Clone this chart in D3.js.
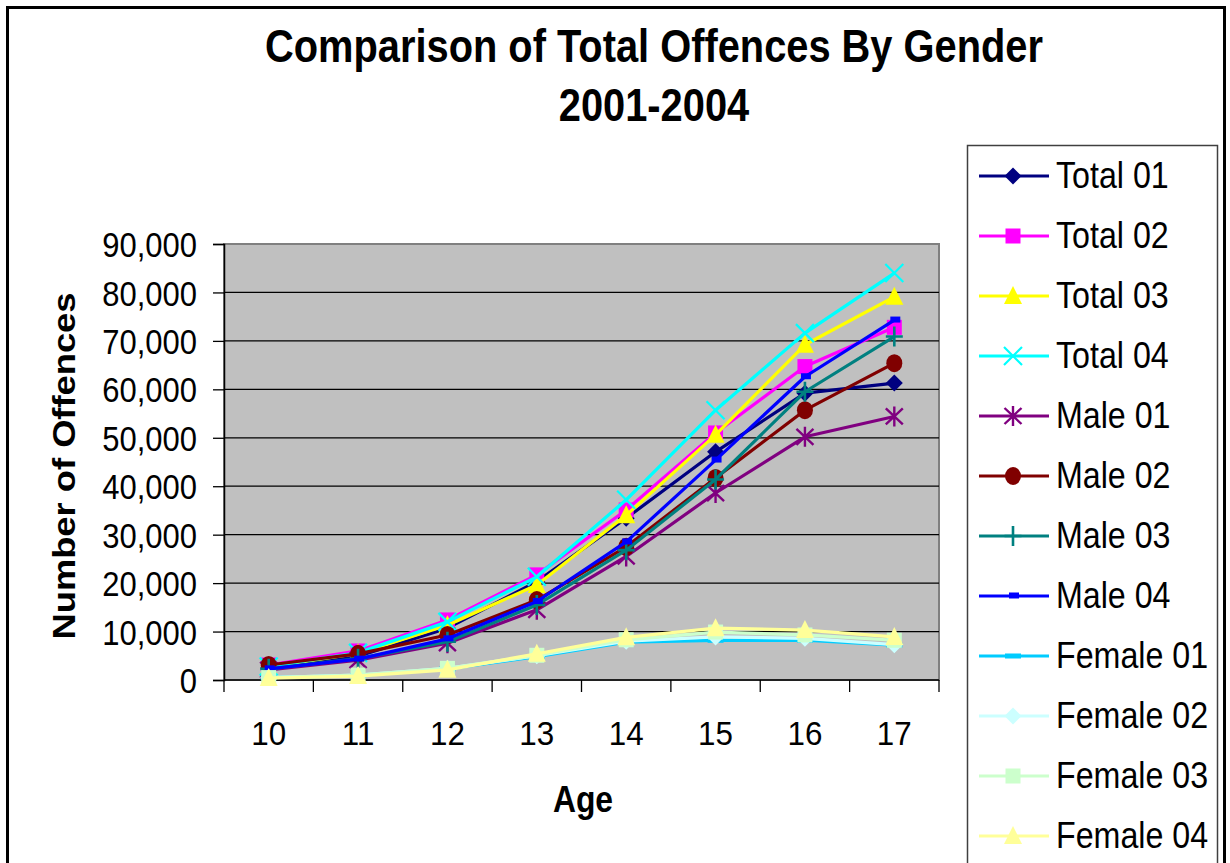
<!DOCTYPE html>
<html>
<head>
<meta charset="utf-8">
<script src="https://cdn.jsdelivr.net/npm/d3@7"></script>
<style>
  html, body { margin: 0; padding: 0; background: #fff; }
  svg text { font-family: "Liberation Sans", Arial, sans-serif; }
</style>
</head>
<body>
<div id="chart"></div>
<script>
// ages on the x axis
var ages = ['10', '11', '12', '13', '14', '15', '16', '17'];
var yTicks = [0, 10000, 20000, 30000, 40000, 50000, 60000, 70000, 80000, 90000];

// values
var total01 = [2500, 4900, 10700, 20300, 33400, 47100, 59200, 61300];
var total02 = [3100, 6000, 12400, 21700, 35100, 51000, 64700, 72800];
var total03 = [2700, 5500, 11300, 19600, 34000, 50600, 69200, 79100];
var total04 = [2800, 5600, 12000, 21300, 37200, 55700, 71600, 84000];
var male01 = [2100, 4100, 7600, 14500, 25500, 38600, 50200, 54400];
var male02 = [3100, 5400, 9300, 16500, 27500, 41700, 55700, 65400];
var male03 = [2300, 4400, 7900, 15500, 26800, 41400, 59500, 70900];
var male04 = [2300, 4300, 8500, 16200, 28500, 45400, 62600, 74300];
var female01 = [500, 900, 2300, 4800, 7800, 8200, 8200, 7200];
var female02 = [500, 1000, 2400, 5000, 8000, 8900, 8600, 7300];
var female03 = [500, 1000, 2400, 5100, 8300, 9900, 9300, 8200];
var female04 = [400, 800, 2100, 5400, 8800, 10700, 10300, 8900];

var seriesNames = ['Total 01', 'Total 02', 'Total 03', 'Total 04',
                   'Male 01', 'Male 02', 'Male 03', 'Male 04',
                   'Female 01', 'Female 02', 'Female 03', 'Female 04'];
var seriesValues = [total01, total02, total03, total04,
                    male01, male02, male03, male04,
                    female01, female02, female03, female04];
var seriesColors = ['#000080', '#ff00ff', '#ffff00', '#00ffff',
                    '#800080', '#800000', '#008080', '#0000ff',
                    '#00ccff', '#ccffff', '#ccffcc', '#ffff99'];
var seriesMarkers = ['diamond', 'square', 'triangle', 'x',
                     'star', 'circle', 'plus', 'shortdash',
                     'longdash', 'diamond', 'square', 'triangle'];

document.addEventListener("DOMContentLoaded", function() {
  var width = 1230,
      height = 863,
      plot = {left: 224, right: 939, top: 244, bottom: 680};

  var svg = d3.select('#chart').append('svg')
    .attr('width', width)
    .attr('height', height);

  // squash text horizontally, the picture is a bit stretched upright
  function squeeze(sel, k) {
    sel.each(function() {
      var w = this.getComputedTextLength();
      d3.select(this).attr('textLength', w * k).attr('lengthAdjust', 'spacingAndGlyphs');
    });
  }

  var series = seriesNames.map(function(name, i) {
    return {name: name, values: seriesValues[i], color: seriesColors[i], marker: seriesMarkers[i]};
  });

  // outer frame
  svg.append('rect')
    .attr('x', 7.5).attr('y', 7.5)
    .attr('width', 1217).attr('height', 880)
    .attr('fill', '#fff')
    .attr('stroke', '#000')
    .attr('stroke-width', 3);

  // title
  var title = svg.append('g').attr('font-weight', 'bold').attr('font-size', 45.5)
    .attr('text-anchor', 'middle');
  title.append('text').attr('x', 654).attr('y', 62).text('Comparison of Total Offences By Gender');
  title.append('text').attr('x', 654).attr('y', 121).text('2001-2004');
  squeeze(title.selectAll('text'), 0.875);

  var x = d3.scaleBand().domain(ages).range([plot.left, plot.right]).padding(0);
  var y = d3.scaleLinear().domain([0, 90000]).range([plot.bottom, plot.top]);

  // plot background
  svg.append('rect')
    .attr('x', plot.left).attr('y', plot.top)
    .attr('width', plot.right - plot.left).attr('height', plot.bottom - plot.top)
    .attr('fill', '#c0c0c0')
    .attr('stroke', '#808080')
    .attr('stroke-width', 2);

  // gridlines
  svg.append('g').selectAll('line')
    .data(yTicks.filter(function(d) { return d > 0 && d < 90000; }))
    .enter().append('line')
    .attr('x1', plot.left).attr('x2', plot.right)
    .attr('y1', function(d) { return y(d); })
    .attr('y2', function(d) { return y(d); })
    .attr('stroke', '#000')
    .attr('stroke-width', 1.3);

  // y axis
  var yAxis = svg.append('g')
    .attr('transform', 'translate(' + plot.left + ',0)')
    .call(d3.axisLeft(y).tickValues(yTicks).tickSize(11).tickPadding(16)
      .tickFormat(d3.format(',')));
  yAxis.select('.domain').attr('stroke', '#000').attr('stroke-width', 1.5);
  yAxis.selectAll('.tick line').attr('stroke', '#000').attr('stroke-width', 1.3);
  yAxis.selectAll('text')
    .attr('font-size', 35)
    .attr('font-family', '"Liberation Sans", Arial, sans-serif')
    .attr('fill', '#000')
    .attr('dy', '0.36em');
  squeeze(yAxis.selectAll('text'), 0.885);

  // x axis: ticks sit between categories, labels in the middle
  var xAxisG = svg.append('g');
  xAxisG.append('line')
    .attr('x1', plot.left).attr('x2', plot.right)
    .attr('y1', plot.bottom).attr('y2', plot.bottom)
    .attr('stroke', '#000').attr('stroke-width', 1.5);
  var bounds = ages.map(function(a) { return x(a); }).concat([x(ages[ages.length - 1]) + x.bandwidth()]);
  xAxisG.selectAll('line.tick')
    .data(bounds)
    .enter().append('line')
    .attr('class', 'tick')
    .attr('x1', function(d) { return d; }).attr('x2', function(d) { return d; })
    .attr('y1', plot.bottom).attr('y2', plot.bottom + 12)
    .attr('stroke', '#000').attr('stroke-width', 1.3);
  xAxisG.selectAll('text')
    .data(ages)
    .enter().append('text')
    .attr('x', function(d) { return x(d) + x.bandwidth() / 2; })
    .attr('y', 745)
    .attr('text-anchor', 'middle')
    .attr('font-size', 33)
    .text(function(d) { return d; });
  squeeze(xAxisG.selectAll('text'), 0.95);

  // axis titles
  var ageLabel = svg.append('text')
    .attr('x', 583).attr('y', 812)
    .attr('text-anchor', 'middle')
    .attr('font-weight', 'bold')
    .attr('font-size', 36)
    .text('Age');
  squeeze(ageLabel, 0.885);

  svg.append('text')
    .attr('transform', 'translate(75,466) rotate(-90)')
    .attr('text-anchor', 'middle')
    .attr('font-weight', 'bold')
    .attr('font-size', 32)
    .attr('textLength', 347)
    .attr('lengthAdjust', 'spacingAndGlyphs')
    .text('Number of Offences');

  // marker shapes
  function drawMarker(g, type, color) {
    if (type === 'diamond') {
      g.append('path').attr('d', 'M0,-8.5L8.5,0L0,8.5L-8.5,0Z').attr('fill', color);
    } else if (type === 'square') {
      g.append('rect').attr('x', -7.5).attr('y', -7.5).attr('width', 15).attr('height', 15).attr('fill', color);
    } else if (type === 'triangle') {
      g.append('path').attr('d', 'M0,-10L9,8L-9,8Z').attr('fill', color);
    } else if (type === 'x') {
      g.append('path').attr('d', 'M-9,-9L9,9M9,-9L-9,9')
        .attr('stroke', color).attr('stroke-width', 2.2).attr('fill', 'none');
    } else if (type === 'star') {
      g.append('path').attr('d', 'M-8.5,-8L8.5,8M8.5,-8L-8.5,8M0,-10V10')
        .attr('stroke', color).attr('stroke-width', 2.4).attr('fill', 'none');
    } else if (type === 'circle') {
      g.append('ellipse').attr('rx', 8).attr('ry', 9).attr('fill', color);
    } else if (type === 'plus') {
      g.append('path').attr('d', 'M-8.5,0H8.5M0,-10V10')
        .attr('stroke', color).attr('stroke-width', 2.6).attr('fill', 'none');
    } else if (type === 'shortdash') {
      g.append('rect').attr('x', -4).attr('y', -3.5).attr('width', 10).attr('height', 6).attr('fill', color);
    } else if (type === 'longdash') {
      g.append('rect').attr('x', -8).attr('y', -2.5).attr('width', 16).attr('height', 5).attr('fill', color);
    }
  }

  var line = d3.line()
    .x(function(d, i) { return x(ages[i]) + x.bandwidth() / 2; })
    .y(function(d) { return y(d); });

  var lines = svg.append('g');
  series.forEach(function(s) {
    var g = lines.append('g');
    g.append('path')
      .attr('d', line(s.values))
      .attr('fill', 'none')
      .attr('stroke', s.color)
      .attr('stroke-width', 3.2)
      .attr('stroke-linejoin', 'round');
    s.values.forEach(function(v, i) {
      var m = g.append('g')
        .attr('transform', 'translate(' + (x(ages[i]) + x.bandwidth() / 2) + ',' + y(v) + ')');
      drawMarker(m, s.marker, s.color);
    });
  });

  // legend
  var legend = svg.append('g');
  legend.append('rect')
    .attr('x', 967.5).attr('y', 145.5)
    .attr('width', 250).attr('height', 760)
    .attr('fill', '#fff')
    .attr('stroke', '#404040')
    .attr('stroke-width', 1.5);

  var rowY = d3.scalePoint().domain(seriesNames).range([176, 836]);
  var items = legend.selectAll('g.item')
    .data(series)
    .enter().append('g')
    .attr('class', 'item')
    .attr('transform', function(d) { return 'translate(0,' + rowY(d.name) + ')'; });
  items.append('line')
    .attr('x1', 979).attr('x2', 1049)
    .attr('stroke', function(d) { return d.color; })
    .attr('stroke-width', 3);
  items.each(function(d) {
    var m = d3.select(this).append('g').attr('transform', 'translate(1013,0)');
    drawMarker(m, d.marker, d.color);
  });
  items.append('text')
    .attr('x', 1056).attr('y', 11.5)
    .attr('font-size', 37)
    .text(function(d) { return d.name; });
  squeeze(items.selectAll('text'), 0.87);
});
</script>
</body>
</html>
